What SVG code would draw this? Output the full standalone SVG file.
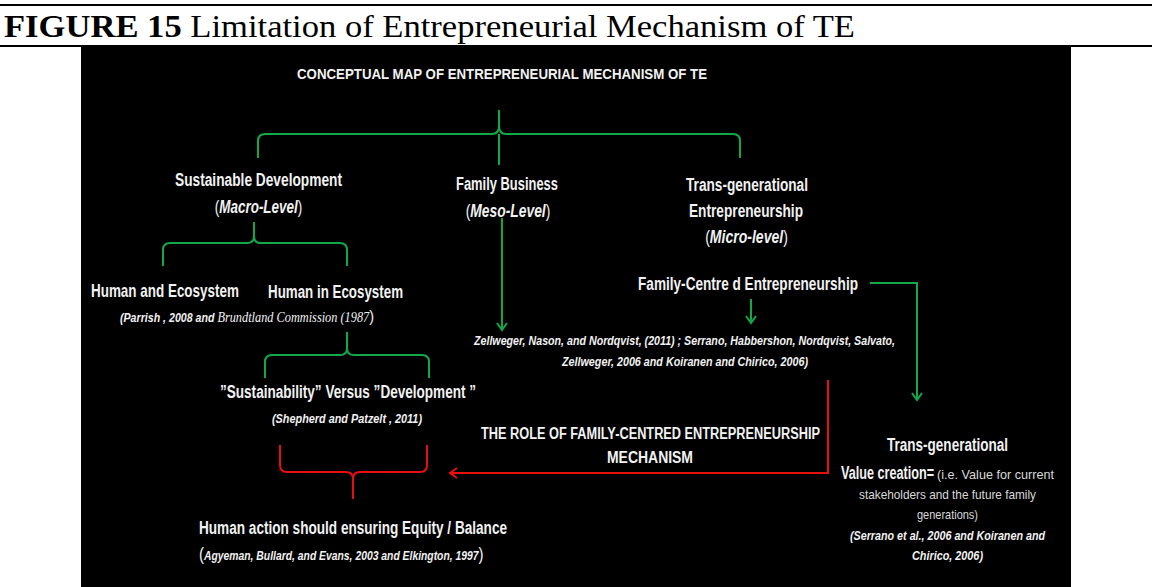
<svg xmlns="http://www.w3.org/2000/svg" width="1152" height="587" viewBox="0 0 1152 587">
<defs>
<style>
.t{font-family:"Liberation Sans Narrow","Liberation Sans",Arial,sans-serif;fill:#f2f2f2;}
.h{font-size:18px;font-weight:bold;}
.b{font-weight:bold;}
.c{font-size:12.5px;font-style:italic;font-weight:bold;}
.i{font-style:italic;}
.m{text-anchor:middle;}
.s{fill:#d9d9d9;font-size:13px;}
.g{fill:none;stroke:#12a84a;stroke-width:2;}
.r{fill:none;stroke:#e8100f;stroke-width:2;}
</style>
<marker id="ag" markerWidth="12" markerHeight="12" refX="10" refY="6" orient="auto" markerUnits="userSpaceOnUse" viewBox="0 0 12 12">
<path d="M3,1 L10,6 L3,11" fill="none" stroke="#12a84a" stroke-width="2"/>
</marker>
<marker id="ar" markerWidth="14" markerHeight="14" refX="12" refY="7" orient="auto" markerUnits="userSpaceOnUse" viewBox="0 0 14 14">
<path d="M5,2 L12,7 L5,12" fill="none" stroke="#e8100f" stroke-width="2"/>
</marker>
</defs>
<rect x="0" y="0" width="1152" height="587" fill="#ffffff"/>
<line x1="0" y1="5" x2="1152" y2="5" stroke="#000" stroke-width="2"/>
<text x="4" y="37" font-family="'Liberation Serif','DejaVu Serif',serif" font-size="31" fill="#000" textLength="851" lengthAdjust="spacingAndGlyphs"><tspan font-weight="bold">FIGURE 15</tspan> Limitation of Entrepreneurial Mechanism of TE</text>
<line x1="0" y1="46" x2="1152" y2="46" stroke="#000" stroke-width="2"/>
<rect x="81" y="47" width="990" height="540" fill="#000"/>

<g id="title"><text class="t b" x="297" y="79" font-size="15" textLength="410" lengthAdjust="spacingAndGlyphs">CONCEPTUAL MAP OF ENTREPRENEURIAL MECHANISM  OF TE</text></g>

<g id="connectors">
<path class="g" d="M258,158 V141 Q258,134 265,134 H492 Q499,134 499,126 V110 M499,126 Q499,134 506,134 H733 Q740,134 740,141 V158 M499,134 V165"/>
<path class="g" d="M163,266 V250 Q163,243 170,243 H247 Q254,243 254,236 V222 M254,236 Q254,243 261,243 H340 Q347,243 347,250 V266"/>
<path class="g" d="M265,378 V362 Q265,355 272,355 H340 Q347,355 347,348 V332 M347,348 Q347,355 354,355 H422 Q429,355 429,362 V378"/>
<path class="r" d="M280,445 V465 Q280,472 287,472 H346 Q353,472 353,479 V499 M353,479 Q353,472 360,472 H420 Q427,472 427,465 V445"/>
<line class="g" x1="502" y1="218" x2="502" y2="330" marker-end="url(#ag)"/>
<line class="g" x1="751" y1="299" x2="751" y2="323" marker-end="url(#ag)"/>
<polyline class="g" points="870,283 917,283 917,400" marker-end="url(#ag)"/>
<polyline class="r" points="828,380 828,473 450,473" marker-end="url(#ar)"/>
</g>

<g id="sustainable"><text class="t h" x="175" y="186" textLength="167" lengthAdjust="spacingAndGlyphs">Sustainable Development</text>
<text class="t m" font-size="18" transform="translate(258.5,213) scale(0.75,1)">(<tspan class="i b">Macro-Level</tspan>)</text></g>

<g id="family-business"><text class="t h" x="456" y="190" textLength="102" lengthAdjust="spacingAndGlyphs">Family Business</text>
<text class="t m" font-size="18" transform="translate(508,217) scale(0.77,1)">(<tspan class="i b">Meso-Level</tspan>)</text></g>

<g id="transgen"><text class="t h" x="686" y="191" textLength="122" lengthAdjust="spacingAndGlyphs">Trans-generational</text>
<text class="t h" x="689" y="217" textLength="114" lengthAdjust="spacingAndGlyphs">Entrepreneurship</text>
<text class="t m" font-size="18" transform="translate(746.5,243) scale(0.78,1)">(<tspan class="i b">Micro-level</tspan>)</text></g>

<g id="human-and"><text class="t h" transform="translate(91,297) scale(0.747,1)" textLength="198" lengthAdjust="spacingAndGlyphs">Human and Ecosystem</text></g>
<g id="human-in"><text class="t h" x="268" y="298" textLength="135" lengthAdjust="spacingAndGlyphs">Human in Ecosystem</text>
<text class="t" transform="translate(120,322) scale(0.85,1)"><tspan class="c">(Parrish , 2008 and </tspan><tspan style="font-family:'Liberation Serif',serif;font-style:italic;font-size:14.5px">Brundtland Commission (1987</tspan><tspan font-size="17">)</tspan></text></g>

<g id="sust-vs-dev"><text class="t h" x="220" y="398" textLength="256" lengthAdjust="spacingAndGlyphs">”Sustainability”  Versus ”Development ”</text>
<text class="t c" x="272" y="423" textLength="150" lengthAdjust="spacingAndGlyphs">(Shepherd and Patzelt , 2011)</text></g>

<g id="human-action"><text class="t h" x="199" y="534" textLength="308" lengthAdjust="spacingAndGlyphs">Human action should ensuring Equity / Balance</text>
<text class="t" font-size="18" transform="translate(199,560) scale(0.83,1)">(<tspan class="c" font-size="13.5">Agyeman, Bullard, and Evans, 2003 and Elkington,  1997</tspan>)</text></g>

<g id="family-centred"><text class="t h" x="638" y="290" textLength="220" lengthAdjust="spacingAndGlyphs">Family-Centre d Entrepreneurship</text></g>

<g id="citation"><text class="t c" x="474" y="345" font-size="13" textLength="421" lengthAdjust="spacingAndGlyphs">Zellweger, Nason, and Nordqvist, (2011) ; Serrano, Habbershon, Nordqvist, Salvato,</text>
<text class="t c" x="562" y="366" font-size="13" textLength="246" lengthAdjust="spacingAndGlyphs">Zellweger,  2006 and Koiranen and Chirico, 2006)</text></g>

<g id="role"><text class="t b" font-size="17" transform="translate(481,439) scale(0.745,1)" textLength="455" lengthAdjust="spacingAndGlyphs">THE ROLE OF FAMILY-CENTRED ENTREPRENEURSHIP</text>
<text class="t b" x="607" y="463" font-size="17" textLength="86" lengthAdjust="spacingAndGlyphs">MECHANISM</text></g>

<g id="value-creation"><text class="t h" x="887" y="451" textLength="121" lengthAdjust="spacingAndGlyphs">Trans-generational</text>
<text class="t b" font-size="19" transform="translate(841,479) scale(0.66,1)" textLength="141" lengthAdjust="spacingAndGlyphs">Value creation=</text>
<text class="t s" transform="translate(937,479) scale(0.936,1)" textLength="125" lengthAdjust="spacingAndGlyphs">(i.e.  Value for current</text>
<text class="t s" x="859" y="499" textLength="177" lengthAdjust="spacingAndGlyphs">stakeholders  and the future  family</text>
<text class="t s" x="917" y="519" textLength="61" lengthAdjust="spacingAndGlyphs">generations)</text>
<text class="t c" x="850" y="540" font-size="13.5" textLength="195" lengthAdjust="spacingAndGlyphs">(Serrano et al., 2006 and Koiranen and</text>
<text class="t c" x="912" y="560" font-size="13.5" textLength="71" lengthAdjust="spacingAndGlyphs">Chirico, 2006)</text></g>
</svg>
